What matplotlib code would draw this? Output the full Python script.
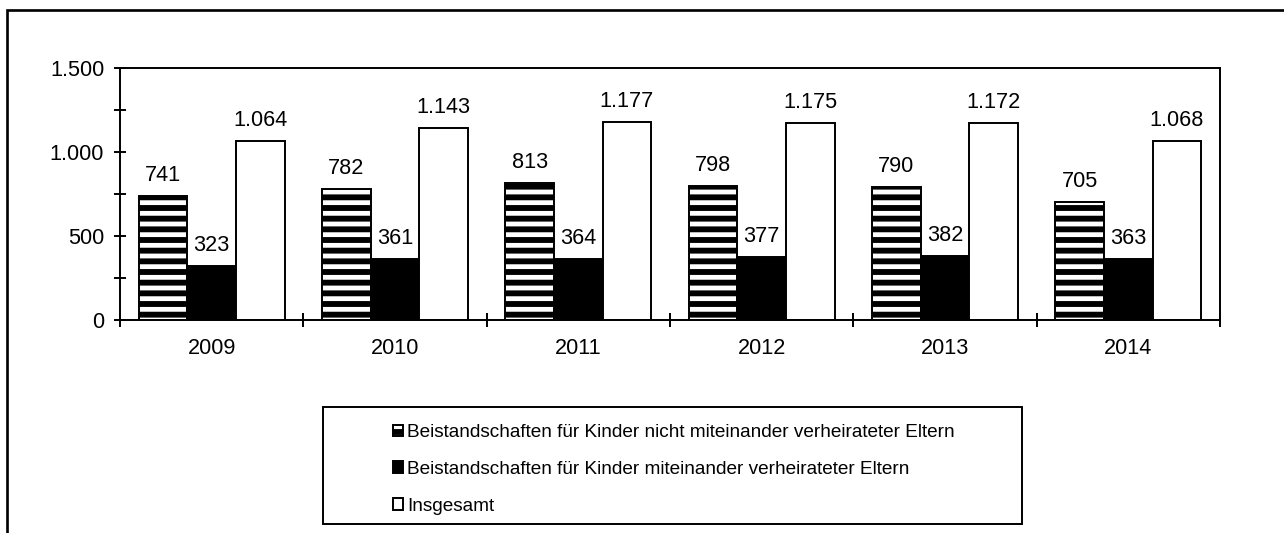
import matplotlib
matplotlib.use("Agg")
import matplotlib.pyplot as plt
from matplotlib.patches import Rectangle, Patch
import numpy as np

years = ["2009", "2010", "2011", "2012", "2013", "2014"]
nicht_verheiratet = [741, 782, 813, 798, 790, 705]
verheiratet = [323, 361, 364, 377, 382, 363]
insgesamt = [1064, 1143, 1177, 1175, 1172, 1068]
labels = [
    "Beistandschaften für Kinder nicht miteinander verheirateter Eltern",
    "Beistandschaften für Kinder miteinander verheirateter Eltern",
    "Insgesamt",
]

plt.rcParams["font.family"] = ["Liberation Sans", "DejaVu Sans"]
plt.rcParams["hatch.linewidth"] = 3.3

DPI = 128
W, H = 1284, 533
fig = plt.figure(figsize=(W / DPI, H / DPI), dpi=DPI)
ax = fig.add_axes([120 / W, 1 - 320 / H, 1100 / W, 252 / H])


def de(v):
    return f"{v:,}".replace(",", ".")


FS = 12.2
x = np.arange(len(years))
w = 0.265
lw = 1.1
ax.bar(x - w, nicht_verheiratet, w, color="white", edgecolor="black",
       hatch="--", linewidth=lw, zorder=2)
ax.bar(x, verheiratet, w, color="black", edgecolor="black",
       linewidth=lw, zorder=2)
ax.bar(x + w, insgesamt, w, color="white", edgecolor="black",
       linewidth=lw, zorder=2)

for off, series in ((-w, nicht_verheiratet), (0, verheiratet), (w, insgesamt)):
    for xi, v in zip(x, series):
        ax.annotate(de(v), (xi + off, v), xytext=(0, 8.4),
                    textcoords="offset points", ha="center", va="baseline",
                    fontsize=FS)

ax.set_xlim(-0.5, len(years) - 0.5)
ax.set_ylim(0, 1500)

ax.set_xticks(x)
ax.set_xticklabels(years)
ax.set_xticks(np.arange(-0.5, len(years)), minor=True)
ax.tick_params(axis="x", which="major", length=0, pad=10.2, labelsize=FS)
ax.tick_params(axis="x", which="minor", direction="inout", length=7.9,
               width=lw)

yt = [0, 500, 1000, 1500]
ax.set_yticks(yt)
ax.set_yticklabels([de(v) for v in yt])
ax.set_yticks([250, 750, 1250], minor=True)
ax.tick_params(axis="y", which="both", direction="inout", length=6.75,
               width=lw, pad=5.5, labelsize=FS)

for s in ax.spines.values():
    s.set_linewidth(lw)

# outer frame
fig.add_artist(Rectangle((7 / W, -0.2), 1.5, 1 - 10 / H + 0.2,
                         transform=fig.transFigure, fill=False,
                         edgecolor="black", linewidth=1.5, clip_on=False))

# legend frame
fig.add_artist(Rectangle((323 / W, 1 - 524 / H), (1022 - 323) / W,
                         (524 - 407) / H, transform=fig.transFigure,
                         fill=False, edgecolor="black", linewidth=lw))

handles = [
    Patch(facecolor="white", edgecolor="black", hatch="--", linewidth=lw),
    Patch(facecolor="black", edgecolor="black", linewidth=lw),
    Patch(facecolor="white", edgecolor="black", linewidth=lw),
]
fig.legend(handles, labels, loc="upper left",
           bbox_to_anchor=(393 / W, 1 - 424 / H), frameon=False,
           fontsize=10.7, handlelength=0.55, handleheight=0.55,
           handletextpad=0.2, labelspacing=1.04, borderpad=0,
           borderaxespad=0)

fig.savefig("out.png", dpi=DPI)
